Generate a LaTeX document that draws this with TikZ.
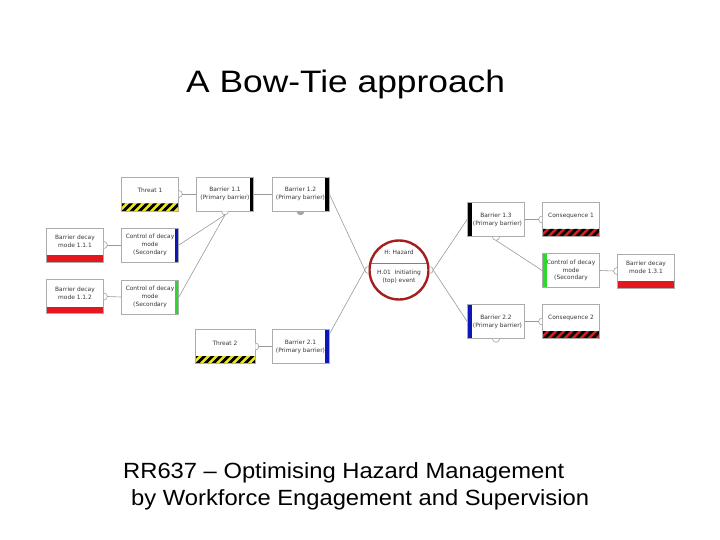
\documentclass[tikz,border=0pt]{standalone}
\usepackage{graphicx}
\usepackage{fontspec}
\setmainfont{Liberation Sans}
\newfontfamily\boxfont{DejaVu Sans}
\usepackage{xcolor}
\usepackage{tikz}
\usetikzlibrary{calc}

\definecolor{barred}{RGB}{228,22,30}
\definecolor{barblue}{RGB}{12,22,185}
\definecolor{bargreen}{RGB}{45,215,45}
\definecolor{hazyellow}{RGB}{240,232,30}
\definecolor{hazred}{RGB}{225,28,32}
\definecolor{hazring}{RGB}{165,30,30}

\newcommand{\sockR}[3][]{\draw[sock,#1] ([yshift=3.5pt]#2) arc[start angle=90,end angle=-90,radius=3.5pt];
  \coordinate (#3) at ([xshift=3.5pt]#2);}
\newcommand{\sockL}[3][]{\draw[sock,#1] ([yshift=3.5pt]#2) arc[start angle=90,end angle=270,radius=3.5pt];
  \coordinate (#3) at ([xshift=-3.5pt]#2);}
\newcommand{\sockB}[3][]{\draw[sock,#1] ([xshift=-3.5pt]#2) arc[start angle=180,end angle=360,radius=3.5pt];
  \coordinate (#3) at ([yshift=-3.5pt]#2);}

\begin{document}
\begin{tikzpicture}[x=1pt,y=-1pt,
    boxtext/.style={font={\boxfont\fontsize{5.9}{7.8}\selectfont}, text=black!78, align=center, inner sep=0pt},
    box/.style={draw=gray!65, line width=0.7pt, fill=white, minimum width=57pt, minimum height=34pt, inner sep=1pt, boxtext},
    uptext/.style={label={[boxtext,yshift=3.5pt]center:#1}},
    barR/.style={path picture={\fill[#1] ([xshift=-4pt]path picture bounding box.north east) rectangle (path picture bounding box.south east);}},
    barL/.style={path picture={\fill[#1] (path picture bounding box.north west) rectangle ([xshift=4pt]path picture bounding box.south west);}},
    barB/.style={path picture={\fill[#1] (path picture bounding box.south west) rectangle ([yshift=7pt]path picture bounding box.south east);}},
    stripes/.style 2 args={path picture={
      \fill[#1] (path picture bounding box.south west) rectangle ([yshift=7.5pt]path picture bounding box.south east);
      \begin{scope}
        \clip (path picture bounding box.south west) rectangle ([yshift=7.5pt]path picture bounding box.south east);
        \foreach \k in {-1,...,8}
          \fill[#2] ([xshift=\k*8pt]path picture bounding box.south west) -- ++(4pt,0pt) -- ++(7.5pt,7.5pt) -- ++(-4pt,0pt) -- cycle;
      \end{scope}}},
    sock/.style={draw=gray!75, line width=0.6pt, fill=white},
    link/.style={draw=gray!80, line width=0.6pt}]
    \useasboundingbox (0,0) rectangle (720,540);

    \node[anchor=base west, inner sep=0pt, font=\fontsize{31}{36}\selectfont] (title) at (186,93) {\scalebox{1.14}[1]{A Bow-Tie approach}};

    \node[box, stripes={hazyellow}{black}, uptext={Threat 1}] (t1) at (150,194) {};
    \node[box, barR=black] (b11) at (225,194) {Barrier 1.1\\(Primary barrier)\hspace{3pt}};
    \node[box, barR=black] (b12) at (300.5,194) {Barrier 1.2\\(Primary barrier)\hspace{3pt}};
    \node[box, barB=barred, uptext={Barrier decay\\mode 1.1.1}] (dm111) at (75,245) {};
    \node[box, barR=barblue] (ctl1) at (150,245) {Control of decay\\mode\\(Secondary};
    \node[box, barB=barred, uptext={Barrier decay\\mode 1.1.2}] (dm112) at (75,296.5) {};
    \node[box, barR=bargreen] (ctl2) at (150,297) {Control of decay\\mode\\(Secondary};
    \node[box, minimum width=60pt, stripes={hazyellow}{black}, uptext={Threat 2}] (t2) at (225,346.5) {};
    \node[box, barR=barblue] (b21) at (300.5,346.5) {Barrier 2.1\\(Primary barrier)\hspace{3pt}};

    \node[draw=hazring, line width=2.4pt, circle, minimum size=59pt, inner sep=0pt, fill=white,
      path picture={\draw[gray, line width=0.6pt] ([yshift=7pt]path picture bounding box.west) -- ([yshift=7pt]path picture bounding box.east);}] (hz) at (399,270) {};
    \node[boxtext] (hztop) at (399,252.5) {H: Hazard};
    \node[boxtext] (hzbot) at (399,277) {H.01\ \ Initiating\\(top) event};

    \node[box, barL=black] (b13) at (496,219.5) {Barrier 1.3\\\hspace{3pt}(Primary barrier)};
    \node[box, stripes={hazred}{black}, uptext={Consequence 1}] (cons1) at (571,219.5) {};
    \node[box, barL=bargreen] (ctl3) at (571,270.5) {Control of decay\\mode\\(Secondary};
    \node[box, barB=barred, uptext={Barrier decay\\mode 1.3.1}] (dm131) at (646,271) {};
    \node[box, barL=barblue] (b22) at (496,321.5) {Barrier 2.2\\\hspace{3pt}(Primary barrier)};
    \node[box, stripes={hazred}{black}, uptext={Consequence 2}] (cons2) at (571,321.5) {};

    \sockR{t1.east}{t1s}
    \sockB{b11.south}{b11s}
    \sockB[fill=gray!70]{b12.south}{b12s}
    \sockR{dm111.east}{dm111s}
    \sockR{dm112.east}{dm112s}
    \sockR{t2.east}{t2s}
    \sockL{hz.west}{hzls}
    \sockR{hz.east}{hzrs}
    \sockL{cons1.west}{cons1s}
    \sockB{b13.south}{b13s}
    \sockL{dm131.west}{dm131s}
    \sockB{b22.south}{b22s}
    \sockL{cons2.west}{cons2s}

    \draw[link] (t1s) -- (b11.west);
    \draw[link] (b11.east) -- (b12.west);
    \draw[link] (b11s) -- (ctl1.east);
    \draw[link] (b11s) -- (ctl2.east);
    \draw[link] (dm111s) -- (ctl1.west);
    \draw[link] (dm112s) -- (ctl2.west);
    \draw[link] (t2s) -- (b21.west);
    \draw[link] (b12.east) -- (hzls);
    \draw[link] ([yshift=-5pt]b21.north east) -- (hzls);
    \draw[link] (hzrs) -- (b13.west);
    \draw[link] (hzrs) -- (b22.west);
    \draw[link] (b13.east) -- (cons1s);
    \draw[link] (b13s) -- (ctl3.west);
    \draw[link] (ctl3.east) -- (dm131s);
    \draw[link] (b22.east) -- (cons2s);

    \node[anchor=base west, inner sep=0pt, font=\fontsize{22}{26}\selectfont] (sub1) at (123,478) {\scalebox{1.08}[1]{RR637 – Optimising Hazard Management}};
    \node[anchor=base west, inner sep=0pt, font=\fontsize{22}{26}\selectfont] (sub2) at (131,505) {\scalebox{1.08}[1]{by Workforce Engagement and Supervision}};
\end{tikzpicture}
\end{document}
